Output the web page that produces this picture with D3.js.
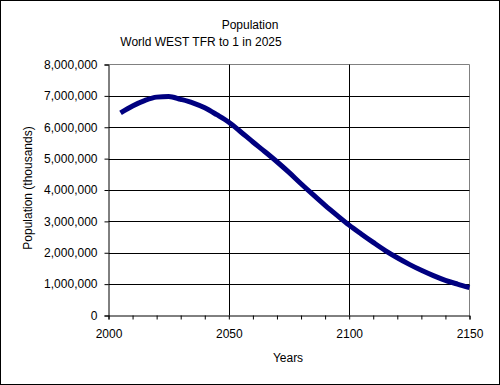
<!DOCTYPE html>
<html>
<head>
<meta charset="utf-8">
<script src="https://cdn.jsdelivr.net/npm/d3@7"></script>
<style>
body { margin: 0; background: #fff; }
text { font-family: "Liberation Sans", Arial, sans-serif; font-size: 12px; fill: #000; }
</style>
</head>
<body>
<svg width="500" height="385"></svg>
<script>
// values, population in thousands
var years = [2005, 2010, 2015, 2020, 2025, 2030, 2035, 2040, 2045, 2050,
             2055, 2060, 2065, 2070, 2075, 2080, 2085, 2090, 2095, 2100,
             2105, 2110, 2115, 2120, 2125, 2130, 2135, 2140, 2145, 2150];
var population = [6460000, 6680000, 6850000, 6960000, 6980000, 6890000, 6780000, 6620000, 6400000, 6160000,
                  5850000, 5530000, 5220000, 4900000, 4560000, 4200000, 3850000, 3510000, 3190000, 2880000,
                  2600000, 2330000, 2070000, 1840000, 1630000, 1440000, 1270000, 1120000, 1000000, 890000];
var xTicks = [2000, 2050, 2100, 2150];
var yTicks = [0, 1000000, 2000000, 3000000, 4000000, 5000000, 6000000, 7000000, 8000000];

var svg = d3.select("svg");
var pLeft = 108.5, pRight = 469.5, pTop = 64.5, pBottom = 315.5;

var x = d3.scaleLinear().domain([2000, 2150]).range([pLeft, pRight]);
var y = d3.scaleLinear().domain([0, 8000000]).range([pBottom, pTop]);

// outer frame
svg.append("rect").attr("x", 0.5).attr("y", 0.5).attr("width", 499).attr("height", 384)
  .attr("fill", "#fff").attr("stroke", "#000");

// plot border (top and right are grey)
svg.append("path").attr("d", "M" + pLeft + "," + pTop + "H" + pRight + "V" + pBottom)
  .attr("fill", "none").attr("stroke", "#808080");

// grid
svg.append("g").selectAll("line").data(yTicks.slice(1, -1)).enter().append("line")
  .attr("x1", pLeft).attr("x2", pRight)
  .attr("y1", function(d) { return Math.round(y(d)) + 0.5; })
  .attr("y2", function(d) { return Math.round(y(d)) + 0.5; })
  .attr("stroke", "#000");
svg.append("g").selectAll("line").data(xTicks.slice(1, -1)).enter().append("line")
  .attr("y1", pTop).attr("y2", pBottom)
  .attr("x1", function(d) { return Math.round(x(d)) + 0.5; })
  .attr("x2", function(d) { return Math.round(x(d)) + 0.5; })
  .attr("stroke", "#000");

// axes
var xAxis = d3.axisBottom(x).tickValues(d3.range(2000, 2151, 10))
  .tickSize(4).tickFormat(function(d) { return xTicks.indexOf(d) >= 0 ? d : ""; });
var gx = svg.append("g").attr("transform", "translate(0," + pBottom + ")").call(xAxis);
gx.select(".domain").attr("stroke", "#000");
gx.selectAll(".tick line").attr("stroke", "#000");
gx.selectAll(".tick text").attr("dy", "0").attr("y", 22)
  .style("font-family", "Liberation Sans, Arial, sans-serif").style("font-size", "12px");

var yAxis = d3.axisLeft(y).tickValues(yTicks).tickSize(4).tickFormat(d3.format(","));
var gy = svg.append("g").attr("transform", "translate(" + pLeft + ",0)").call(yAxis);
gy.select(".domain").attr("stroke", "#000");
gy.selectAll(".tick line").attr("stroke", "#000");
gy.selectAll(".tick text").attr("x", -11)
  .style("font-family", "Liberation Sans, Arial, sans-serif").style("font-size", "12px");

// series
var line = d3.line()
  .x(function(d, i) { return x(years[i]); })
  .y(function(d) { return y(d); })
  .curve(d3.curveMonotoneX);
svg.append("path").datum(population).attr("d", line)
  .attr("fill", "none").attr("stroke", "#000080").attr("stroke-width", 5);

// titles
svg.append("text").attr("x", 250).attr("y", 29).attr("text-anchor", "middle").text("Population");
svg.append("text").attr("x", 201).attr("y", 46).attr("text-anchor", "middle").text("World WEST TFR to 1 in 2025");
svg.append("text").attr("x", 288).attr("y", 362).attr("text-anchor", "middle").text("Years");
svg.append("text").attr("transform", "translate(32,188) rotate(-90)").attr("text-anchor", "middle")
  .text("Population (thousands)");
</script>
</body>
</html>
